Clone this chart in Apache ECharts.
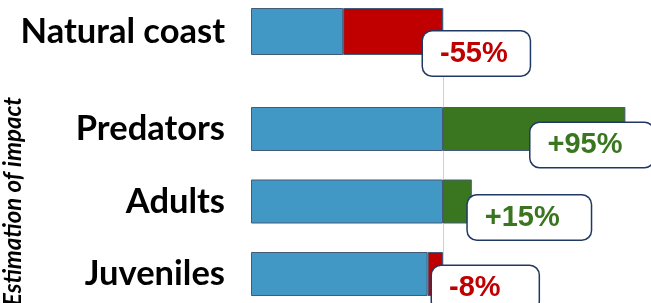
<!DOCTYPE html>
<html>
<head>
<meta charset="utf-8">
<script src="https://cdn.jsdelivr.net/npm/echarts@6/dist/echarts.min.js"></script>
<style>
  html, body { margin: 0; padding: 0; background: #fff; }
  #chart { width: 651px; height: 303px; }
</style>
</head>
<body>
<div id="chart"></div>
<script>
var categories = ['Natural coast', 'Predators', 'Adults', 'Juveniles']
var remaining = [48, 100, 100, 92] // part of the 100% baseline kept (blue)
var change = [-55, 95, 15, -8] // estimated change in %
var axisName = 'Estimation of impact'

var blue = '#4198c4'
var red = '#c00000'
var green = '#3a7620'
var edge = '#435a78'

var decrease = categories.map(function (c, i) { return change[i] < 0 ? 100 - remaining[i] : '-' })
var increase = categories.map(function (c, i) { return change[i] > 0 ? change[i] : '-' })
var labelText = change.map(function (v) { return (v > 0 ? '+' : '') + v + '%' })

var W = 651

function boxLabel(color, padRight, first) {
  return {
    show: true,
    position: 'right',
    distance: 0,
    formatter: function (p) { return labelText[p.dataIndex + first] },
    color: color,
    fontFamily: 'Liberation Sans',
    fontWeight: 'bold',
    fontSize: 29,
    lineHeight: 30,
    backgroundColor: '#fff',
    borderColor: '#1f3864',
    borderWidth: 1.5,
    borderRadius: 9,
    padding: [9, padRight, 5, 17]
  }
}

// shift the box down/left of the bar end, keep it inside the canvas
function shift(dx, dy) {
  return function (p) {
    var r = p.labelRect
    var over = r.x + dx + r.width - (W + 4)
    return { dx: over > 0 ? dx - over : dx, dy: dy }
  }
}

function seg(data, color, gi, label, layout) {
  var s = {
    type: 'bar',
    stack: 'g' + gi,
    xAxisIndex: gi,
    yAxisIndex: gi,
    data: data,
    barWidth: gi === 0 ? 47 : 44,
    itemStyle: { color: color, borderColor: edge, borderWidth: 1 },
    label: label || { show: false },
    z: 3
  }
  if (layout) s.labelLayout = layout
  return s
}

var catLabel = {
  color: '#000',
  fontFamily: 'Lato',
  fontWeight: 'bold',
  fontSize: 34.5,
  margin: 26
}

var chart = echarts.init(document.getElementById('chart'))
chart.setOption({
  animation: false,
  backgroundColor: '#fff',
  grid: [
    { left: 251, width: 384, top: 8, height: 47, outerBoundsMode: 'none' },
    { left: 251, width: 384, top: 92.75, height: 217.5, outerBoundsMode: 'none' },
    { left: 251, width: 192, top: 8, bottom: 0, outerBoundsMode: 'none' }
  ],
  xAxis: [
    { gridIndex: 0, type: 'value', min: 0, max: 200, show: false },
    { gridIndex: 1, type: 'value', min: 0, max: 200, show: false },
    {
      gridIndex: 2, type: 'value', min: 0, max: 100, interval: 100,
      axisLine: { show: false }, axisTick: { show: false }, axisLabel: { show: false },
      splitLine: { show: true, lineStyle: { color: ['rgba(0,0,0,0)', '#c9d0e2'], width: 1 } }
    }
  ],
  yAxis: [
    {
      gridIndex: 0, type: 'category', data: categories.slice(0, 1),
      axisLine: { show: false }, axisTick: { show: false }, axisLabel: catLabel
    },
    {
      gridIndex: 1, type: 'category', inverse: true, data: categories.slice(1),
      axisLine: { show: false }, axisTick: { show: false }, axisLabel: catLabel,
      name: axisName,
      nameLocation: 'middle',
      nameRotate: 90,
      nameGap: 226,
      nameTextStyle: { color: '#000', fontFamily: 'Lato', fontWeight: 'bold', fontStyle: 'italic', fontSize: 24 }
    },
    { gridIndex: 2, type: 'value', show: false }
  ],
  series: [
    seg(remaining.slice(0, 1), blue, 0),
    seg(decrease.slice(0, 1), red, 0, boxLabel(red, 22, 0), shift(-20, 22)),
    seg(remaining.slice(1), blue, 1),
    seg(increase.slice(1), green, 1, boxLabel(green, 31, 1), shift(-4, 16)),
    seg(decrease.slice(1), red, 1, boxLabel(red, 38, 1), shift(-11, 14))
  ]
})
</script>
</body>
</html>
